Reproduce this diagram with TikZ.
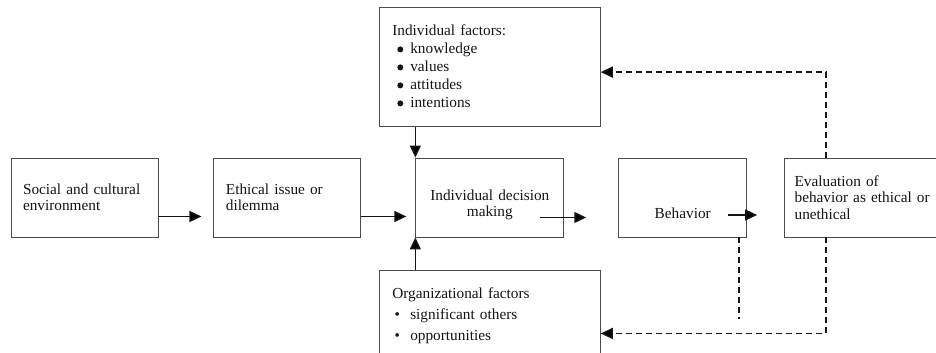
\documentclass[tikz,border=0pt]{standalone}
\usepackage{fontspec}
\setmainfont{Liberation Serif}
\usetikzlibrary{arrows.meta,positioning}
\definecolor{Ink}{HTML}{151515}
\definecolor{Edge}{HTML}{4A4A4A}
\newcommand{\bigbul}{\tikz[baseline=-4.5pt]\fill[Ink] (0,0) circle (3pt);}
\tikzset{
  box/.style={
    rectangle,draw=Edge,line width=0.9pt,fill=white,
    minimum height=79pt,inner xsep=12pt,align=left,
    font=\fontsize{15.3}{16.5}\selectfont,text=Ink
  },
  arrow/.style={-{Triangle[length=12pt,width=11pt]},line width=1.5pt,draw=Ink},
  dasharrow/.style={arrow,dash pattern=on 6pt off 4pt},
  dashline/.style={line width=1.5pt,draw=Ink,dash pattern=on 6pt off 4pt}
}
\begin{document}
\begin{tikzpicture}[x=1pt,y=1pt,node distance=55pt]
  \clip (0,0) rectangle (936,353);
  \node[box,text width=123pt] (social) at (84.5,155.5) {Social and cultural\\environment};
  \node[box,text width=123pt,right=of social] (issue) {Ethical issue or\\dilemma};
  \node[box,text width=124pt,align=center,text height=25pt,right=54pt of issue] (decide) {Individual decision\\making};
  \node[box,text width=104pt,align=center,text height=46pt,text depth=3pt,right=54pt of decide] (behave) {Behavior};
  \node[box,text width=142pt,inner xsep=5pt,right=37pt of behave] (judge) {\hspace*{5pt}Evaluation of\\\hspace*{5pt}behavior as ethical or\\\hspace*{5pt}unethical};
  \node[box,text width=195pt,inner xsep=13pt,minimum height=119pt,font=\fontsize{15.3}{18}\selectfont,above=31pt of decide] (indiv) {
    Individual factors:\\
    \hspace*{5pt}\bigbul\hspace{7pt}knowledge\\
    \hspace*{5pt}\bigbul\hspace{7pt}values\\
    \hspace*{5pt}\bigbul\hspace{7pt}attitudes\\
    \hspace*{5pt}\bigbul\hspace{7pt}intentions
  };
  \node[box,text width=195pt,inner xsep=13pt,minimum height=89pt,font=\fontsize{15.3}{21}\selectfont,below=33pt of decide] (org) {
    Organizational factors\\
    \hspace*{2.3pt}\textbullet\hspace{10.3pt}significant others\\
    \hspace*{2.3pt}\textbullet\hspace{10.3pt}opportunities
  };
  % main flow
  \draw[arrow] ([yshift=-19pt]social.east) -- ([xshift=-12pt,yshift=-19pt]issue.west);
  \draw[arrow] ([yshift=-19pt]issue.east) -- ([xshift=-9pt,yshift=-19pt]decide.west);
  \coordinate (decout) at ([xshift=-24pt,yshift=-20pt]decide.east);
  \coordinate (decend) at ([xshift=22pt,yshift=-20pt]decide.east);
  \draw[arrow] (decout) -- (decend);
  \coordinate (behout) at ([xshift=-19pt,yshift=-17.5pt]behave.east);
  \coordinate (behend) at ([xshift=10pt,yshift=-17.5pt]behave.east);
  \draw[arrow] (behout) -- (behend);
  \draw[arrow] (decide.north west |- indiv.south) -- (decide.north west);
  \draw[arrow] (decide.south west |- org.north) -- (decide.south west);
  % feedback
  \draw[dasharrow] ([xshift=42pt]judge.north west) |- ([yshift=-5.5pt]indiv.east);
  \draw[dasharrow] ([xshift=42pt]judge.south west) |- ([yshift=-63pt]org.north east);
  \coordinate (tail) at ([xshift=-8pt,yshift=-82pt]behave.south east);
  \draw[dashline] ([xshift=-8pt]behave.south east) -- (tail);
\end{tikzpicture}
\end{document}
